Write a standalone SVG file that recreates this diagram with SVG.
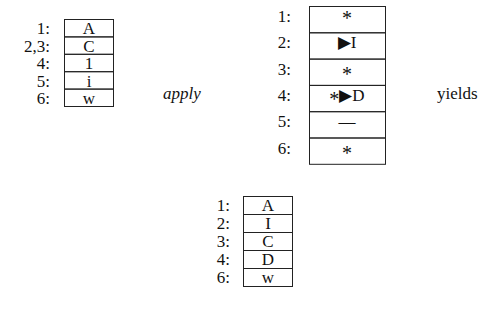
<svg xmlns="http://www.w3.org/2000/svg" width="496" height="335" viewBox="0 0 496 335">
<style>
text{font-family:"Liberation Serif","Times New Roman",serif;font-size:17px;fill:#111}
.lab{text-anchor:end}
.c{text-anchor:middle}
.box{fill:none;stroke:#222;stroke-width:1}
.it{font-style:italic}
.ast{font-size:20px}
</style>
<rect width="496" height="335" fill="#fff"/>
<g id="left">
<rect class="box" x="64.5" y="19.5" width="49" height="17.4"/>
<rect class="box" x="64.5" y="36.9" width="49" height="17.4"/>
<rect class="box" x="64.5" y="54.3" width="49" height="17.4"/>
<rect class="box" x="64.5" y="71.7" width="49" height="17.4"/>
<rect class="box" x="64.5" y="89.1" width="49" height="17.4"/>
<text class="lab" x="50" y="34">1:</text>
<text class="lab" x="50" y="51.5">2,3:</text>
<text class="lab" x="50" y="69">4:</text>
<text class="lab" x="50" y="86.5">5:</text>
<text class="lab" x="50" y="104">6:</text>
<text class="c" x="89" y="34">A</text>
<text class="c" x="89" y="51.5">C</text>
<text class="c" x="89" y="69">1</text>
<text class="c" x="89" y="86.5">i</text>
<text class="c" x="89" y="104">w</text>
</g>
<g id="apply"><text class="it" x="163" y="99">apply</text></g>
<g id="mid">
<rect class="box" x="309.5" y="6.5" width="76" height="26.3"/>
<rect class="box" x="309.5" y="32.8" width="76" height="26.3"/>
<rect class="box" x="309.5" y="59.1" width="76" height="26.3"/>
<rect class="box" x="309.5" y="85.4" width="76" height="26.3"/>
<rect class="box" x="309.5" y="111.7" width="76" height="26.3"/>
<rect class="box" x="309.5" y="138" width="76" height="26.3"/>
<text class="lab" x="291" y="22">1:</text>
<text class="lab" x="291" y="48">2:</text>
<text class="lab" x="291" y="75">3:</text>
<text class="lab" x="291" y="101">4:</text>
<text class="lab" x="291" y="127">5:</text>
<text class="lab" x="291" y="154">6:</text>
<text class="c ast" x="347" y="25">*</text>
<text class="c" x="347" y="48">▶I</text>
<text class="c ast" x="347" y="81">*</text>
<text class="c" x="347" y="101"><tspan class="ast" dy="5">*</tspan><tspan dy="-5">▶D</tspan></text>
<text class="c" x="347" y="127" font-size="14">—</text>
<text class="c ast" x="347" y="160">*</text>
</g>
<g id="yields"><text x="437" y="99">yields</text></g>
<g id="bottom">
<rect class="box" x="243.5" y="196.5" width="49" height="18"/>
<rect class="box" x="243.5" y="214.5" width="49" height="18"/>
<rect class="box" x="243.5" y="232.5" width="49" height="18"/>
<rect class="box" x="243.5" y="250.5" width="49" height="18"/>
<rect class="box" x="243.5" y="268.5" width="49" height="18"/>
<text class="lab" x="230" y="211">1:</text>
<text class="lab" x="230" y="229">2:</text>
<text class="lab" x="230" y="247">3:</text>
<text class="lab" x="230" y="265">4:</text>
<text class="lab" x="230" y="283">6:</text>
<text class="c" x="268" y="211">A</text>
<text class="c" x="268" y="229">I</text>
<text class="c" x="268" y="247">C</text>
<text class="c" x="268" y="265">D</text>
<text class="c" x="268" y="283">w</text>
</g>
</svg>
